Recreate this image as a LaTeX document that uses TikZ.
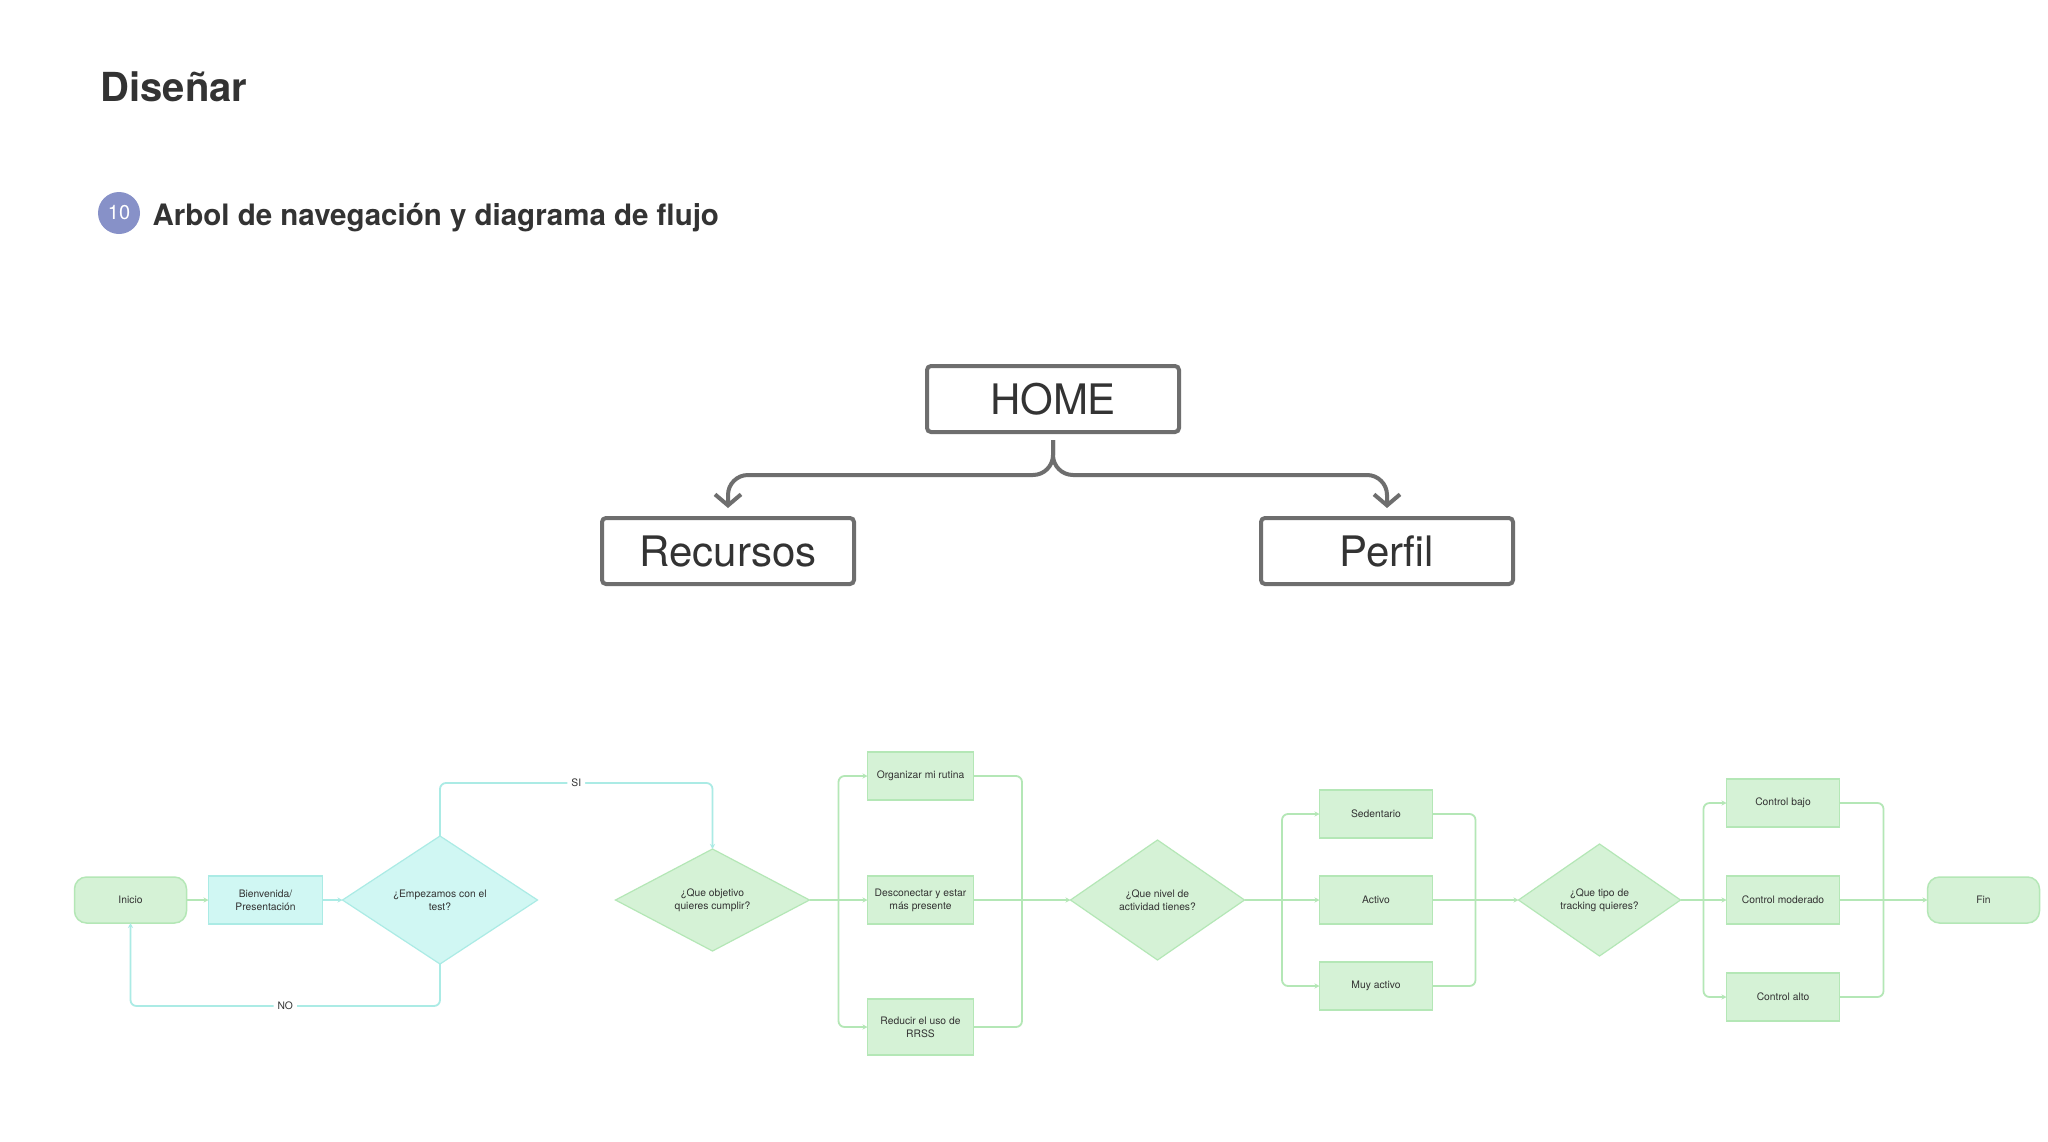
\documentclass[tikz,border=0pt]{standalone}
\usepackage{fontspec}
\setmainfont{TeX Gyre Heros}
\usetikzlibrary{positioning,shapes.geometric,arrows.meta,calc}
\definecolor{ink}{HTML}{333333}
\definecolor{treegray}{HTML}{6E6E6E}
\definecolor{greenfill}{HTML}{D5F2D6}
\definecolor{greenline}{HTML}{B4E7B6}
\definecolor{cyanfill}{HTML}{D0F7F3}
\definecolor{cyanline}{HTML}{ABEBE5}
\definecolor{badge}{HTML}{8791C8}

\tikzset{
  treebox/.style={draw=treegray, line width=4pt, rounded corners=4pt,
    minimum width=252pt, minimum height=66pt, text=ink,
    font=\fontsize{42}{48}\selectfont},
  treeedge/.style={draw=treegray, line width=4pt, rounded corners=20pt,
    -{Straight Barb[length=11pt,width=26pt]}, shorten >=8pt, shorten <=6pt},
  flowtext/.style={font=\fontsize{10.3}{13}\selectfont, text=ink, align=center,
    inner sep=0pt, outer sep=0pt},
  endpoint/.style={flowtext, draw=greenline, fill=greenfill, line width=1.5pt,
    rounded corners=12pt, minimum width=112pt, minimum height=46pt},
  gbox/.style={flowtext, draw=greenline, fill=greenfill, line width=1.2pt,
    minimum width=106pt, minimum height=48pt},
  cbox/.style={gbox, draw=cyanline, fill=cyanfill},
  gdec/.style={flowtext, diamond, aspect=1.5, draw=greenline, fill=greenfill, line width=1.2pt},
  cdec/.style={gdec, draw=cyanline, fill=cyanfill},
  gline/.style={draw=greenline, line width=1.8pt, rounded corners=6pt},
  gedge/.style={gline, -{Stealth[length=5pt,width=5pt]}},
  cedge/.style={gedge, draw=cyanline},
  lbl/.style={flowtext, fill=white, inner sep=4pt},
}

\begin{document}
\begin{tikzpicture}[x=1pt, y=-1pt]
  \fill[white] (0,0) rectangle (2048,1141);
  \useasboundingbox (0,0) rectangle (2048,1141);
  % Headings
  \node[anchor=base west, text=ink, font=\fontsize{40}{48}\selectfont\bfseries] (titulo) at (97,101) {Diseñar};
  \node[circle, fill=badge, minimum size=42pt, inner sep=0pt, text=white,
    font=\fontsize{20}{20}\selectfont] (num) at (119,213) {10};
  \node[anchor=base west, text=ink, font=\fontsize{29.5}{36}\selectfont\bfseries] (subtitulo) at (149,225) {Arbol de navegación y diagrama de flujo};
  % Navigation tree
  \node[treebox] (home) at (1053,399) {HOME};
  \node[treebox, below=82pt of home, xshift=-325pt] (recursos) {Recursos};
  \node[treebox, below=82pt of home, xshift=334pt] (perfil) {Perfil};
  \draw[treeedge] (home.south) -- ++(0,41) -| (recursos.north);
  \draw[treeedge] (home.south) -- ++(0,41) -| (perfil.north);
  % Define flow nodes
  \node[endpoint] (inicio) at (130.5,900) {Inicio};
  \node[cbox, minimum width=114pt, right=22pt of inicio] (bienvenida) {Bienvenida/\\Presentación};
  \node[cdec, minimum width=195pt, minimum height=128pt, right=20pt of bienvenida] (test) {¿Empezamos con el\\test?};
  \node[gdec, minimum width=194pt, minimum height=102pt, right=78pt of test] (objetivo) {¿Que objetivo\\quieres cumplir?};
  \node[gbox, right=58pt of objetivo] (desconectar) {Desconectar y estar\\más presente};
  \node[gbox, above=76pt of desconectar] (rutina) {Organizar mi rutina};
  \node[gbox, minimum height=56pt, below=75pt of desconectar] (rrss) {Reducir el uso de\\RRSS};
  \node[gdec, minimum width=174pt, minimum height=120pt, right=97pt of desconectar] (nivel) {¿Que nivel de\\actividad tienes?};
  \node[gbox, minimum width=113pt, right=75pt of nivel] (activo) {Activo};
  \node[gbox, minimum width=113pt, above=38pt of activo] (sedentario) {Sedentario};
  \node[gbox, minimum width=113pt, below=38pt of activo] (muyactivo) {Muy activo};
  \node[gdec, minimum width=162pt, minimum height=112pt, right=86pt of activo] (tracking) {¿Que tipo de\\tracking quieres?};
  \node[gbox, minimum width=113pt, right=46pt of tracking] (cmoderado) {Control moderado};
  \node[gbox, minimum width=113pt, above=49pt of cmoderado] (cbajo) {Control bajo};
  \node[gbox, minimum width=113pt, below=49pt of cmoderado] (calto) {Control alto};
  \node[endpoint, right=88pt of cmoderado] (fin) {Fin};
  % Split and join points
  \coordinate (split1) at ($(objetivo.east)!0.5!(desconectar.west)$);
  \coordinate (join1) at ($(desconectar.east)!0.5!(nivel.west)$);
  \coordinate (split2) at ($(nivel.east)!0.5!(activo.west)$);
  \coordinate (join2) at ($(activo.east)!0.5!(tracking.west)$);
  \coordinate (split3) at ($(tracking.east)!0.5!(cmoderado.west)$);
  \coordinate (join3) at ($(cmoderado.east)!0.5!(fin.west)$);
  % Define flow edges
  \draw[gedge] (inicio) -- (bienvenida);
  \draw[cedge] (bienvenida) -- (test);
  \draw[cedge] (test.north) -- ++(0,-53) -| node[lbl, pos=0.25] {SI} (objetivo.north);
  \draw[cedge] (test.south) -- ++(0,42) -| node[lbl, pos=0.25] {NO} (inicio.south);
  \draw[gedge] (objetivo) -- (desconectar);
  \draw[gedge] (split1) |- (rutina);
  \draw[gedge] (split1) |- (rrss);
  \draw[gline] (rutina) -| (join1);
  \draw[gline] (rrss) -| (join1);
  \draw[gedge] (desconectar) -- (nivel);
  \draw[gedge] (nivel) -- (activo);
  \draw[gedge] (split2) |- (sedentario);
  \draw[gedge] (split2) |- (muyactivo);
  \draw[gline] (sedentario) -| (join2);
  \draw[gline] (muyactivo) -| (join2);
  \draw[gedge] (activo) -- (tracking);
  \draw[gedge] (tracking) -- (cmoderado);
  \draw[gedge] (split3) |- (cbajo);
  \draw[gedge] (split3) |- (calto);
  \draw[gline] (cbajo) -| (join3);
  \draw[gline] (calto) -| (join3);
  \draw[gedge] (cmoderado) -- (fin);
\end{tikzpicture}
\end{document}
